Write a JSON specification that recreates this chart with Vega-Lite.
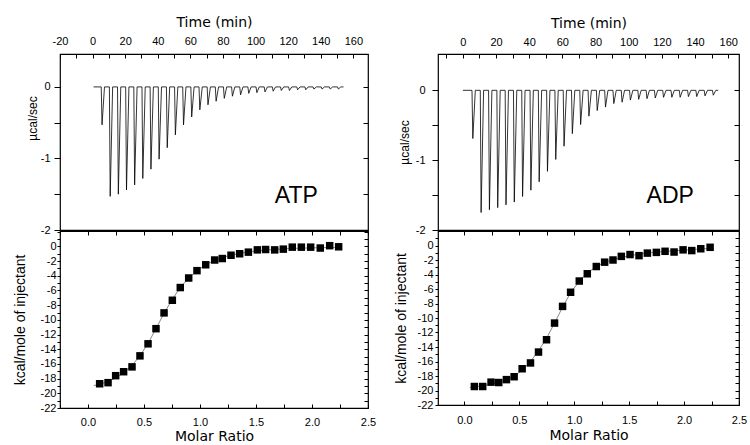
{
  "$schema": "https://vega.github.io/schema/vega-lite/v6.json",
  "background": "white",
  "padding": {"left": 12, "top": 14, "right": 1, "bottom": 0},
  "columns": 2,
  "spacing": {"row": 0, "column": 70},
  "bounds": "flush",
  "align": "all",
  "datasets": {
    "rawATP": [
      {"t":0.6,"p":0},
      {"t":5.3,"p":0},{"t":5.8,"p":-0.53},{"t":7.3,"p":0},
      {"t":10.3,"p":0},{"t":10.8,"p":-1.53},{"t":12.3,"p":0},
      {"t":15.3,"p":0},{"t":15.8,"p":-1.5},{"t":17.3,"p":0},
      {"t":20.3,"p":0},{"t":20.8,"p":-1.44},{"t":22.3,"p":0},
      {"t":25.3,"p":0},{"t":25.8,"p":-1.37},{"t":27.3,"p":0},
      {"t":30.3,"p":0},{"t":30.8,"p":-1.28},{"t":32.3,"p":0},
      {"t":35.3,"p":0},{"t":35.8,"p":-1.15},{"t":37.3,"p":0},
      {"t":40.3,"p":0},{"t":40.8,"p":-1.01},{"t":42.3,"p":0},
      {"t":45.3,"p":0},{"t":45.8,"p":-0.85},{"t":47.3,"p":0},
      {"t":50.3,"p":0},{"t":50.8,"p":-0.67},{"t":52.3,"p":0},
      {"t":55.3,"p":0},{"t":55.8,"p":-0.53},{"t":57.3,"p":0},
      {"t":60.3,"p":0},{"t":60.8,"p":-0.42},{"t":62.3,"p":0},
      {"t":65.3,"p":0},{"t":65.8,"p":-0.32},{"t":67.3,"p":0},
      {"t":70.3,"p":0},{"t":70.8,"p":-0.25},{"t":72.3,"p":0},
      {"t":75.3,"p":0},{"t":75.8,"p":-0.2},{"t":77.3,"p":0},
      {"t":80.3,"p":0},{"t":80.8,"p":-0.16},{"t":82.3,"p":0},
      {"t":85.3,"p":0},{"t":85.8,"p":-0.13},{"t":87.3,"p":0},
      {"t":90.3,"p":0},{"t":90.8,"p":-0.11},{"t":92.3,"p":0},
      {"t":95.3,"p":0},{"t":95.8,"p":-0.09},{"t":97.3,"p":0},
      {"t":100.3,"p":0},{"t":100.8,"p":-0.08},{"t":102.3,"p":0},
      {"t":105.3,"p":0},{"t":105.8,"p":-0.07},{"t":107.3,"p":0},
      {"t":110.3,"p":0},{"t":110.8,"p":-0.06},{"t":112.3,"p":0},
      {"t":115.3,"p":0},{"t":115.8,"p":-0.05},{"t":117.3,"p":0},
      {"t":120.3,"p":0},{"t":120.8,"p":-0.05},{"t":122.3,"p":0},
      {"t":125.3,"p":0},{"t":125.8,"p":-0.04},{"t":127.3,"p":0},
      {"t":130.3,"p":0},{"t":130.8,"p":-0.04},{"t":132.3,"p":0},
      {"t":135.3,"p":0},{"t":135.8,"p":-0.03},{"t":137.3,"p":0},
      {"t":140.3,"p":0},{"t":140.8,"p":-0.03},{"t":142.3,"p":0},
      {"t":145.3,"p":0},{"t":145.8,"p":-0.03},{"t":147.3,"p":0},
      {"t":150.3,"p":0},{"t":150.8,"p":-0.03},{"t":152.3,"p":0},
      {"t":154,"p":0}
    ],
    "rawADP": [
      {"t":0,"p":0},
      {"t":5.5,"p":0},{"t":6,"p":-0.69},{"t":7.5,"p":0},
      {"t":10.5,"p":0},{"t":11,"p":-1.75},{"t":12.5,"p":0},
      {"t":15.5,"p":0},{"t":16,"p":-1.71},{"t":17.5,"p":0},
      {"t":20.5,"p":0},{"t":21,"p":-1.68},{"t":22.5,"p":0},
      {"t":25.5,"p":0},{"t":26,"p":-1.64},{"t":27.5,"p":0},
      {"t":30.5,"p":0},{"t":31,"p":-1.6},{"t":32.5,"p":0},
      {"t":35.5,"p":0},{"t":36,"p":-1.52},{"t":37.5,"p":0},
      {"t":40.5,"p":0},{"t":41,"p":-1.43},{"t":42.5,"p":0},
      {"t":45.5,"p":0},{"t":46,"p":-1.31},{"t":47.5,"p":0},
      {"t":50.5,"p":0},{"t":51,"p":-1.16},{"t":52.5,"p":0},
      {"t":55.5,"p":0},{"t":56,"p":-0.99},{"t":57.5,"p":0},
      {"t":60.5,"p":0},{"t":61,"p":-0.8},{"t":62.5,"p":0},
      {"t":65.5,"p":0},{"t":66,"p":-0.62},{"t":67.5,"p":0},
      {"t":70.5,"p":0},{"t":71,"p":-0.49},{"t":72.5,"p":0},
      {"t":75.5,"p":0},{"t":76,"p":-0.37},{"t":77.5,"p":0},
      {"t":80.5,"p":0},{"t":81,"p":-0.29},{"t":82.5,"p":0},
      {"t":85.5,"p":0},{"t":86,"p":-0.24},{"t":87.5,"p":0},
      {"t":90.5,"p":0},{"t":91,"p":-0.19},{"t":92.5,"p":0},
      {"t":95.5,"p":0},{"t":96,"p":-0.17},{"t":97.5,"p":0},
      {"t":100.5,"p":0},{"t":101,"p":-0.14},{"t":102.5,"p":0},
      {"t":105.5,"p":0},{"t":106,"p":-0.13},{"t":107.5,"p":0},
      {"t":110.5,"p":0},{"t":111,"p":-0.12},{"t":112.5,"p":0},
      {"t":115.5,"p":0},{"t":116,"p":-0.11},{"t":117.5,"p":0},
      {"t":120.5,"p":0},{"t":121,"p":-0.1},{"t":122.5,"p":0},
      {"t":125.5,"p":0},{"t":126,"p":-0.1},{"t":127.5,"p":0},
      {"t":130.5,"p":0},{"t":131,"p":-0.1},{"t":132.5,"p":0},
      {"t":135.5,"p":0},{"t":136,"p":-0.09},{"t":137.5,"p":0},
      {"t":140.5,"p":0},{"t":141,"p":-0.09},{"t":142.5,"p":0},
      {"t":145.5,"p":0},{"t":146,"p":-0.08},{"t":147.5,"p":0},
      {"t":150.5,"p":0},{"t":151,"p":-0.07},{"t":152.5,"p":0},
      {"t":154,"p":0}
    ],
    "isoATP": [
      {"ratio":0.104,"dh":-18.7},{"ratio":0.179,"dh":-18.55},{"ratio":0.247,"dh":-17.6},
      {"ratio":0.318,"dh":-17.06},{"ratio":0.393,"dh":-16.4},{"ratio":0.464,"dh":-14.9},
      {"ratio":0.536,"dh":-13.26},{"ratio":0.607,"dh":-11.2},{"ratio":0.679,"dh":-9.05},
      {"ratio":0.753,"dh":-7.33},{"ratio":0.824,"dh":-5.6},{"ratio":0.899,"dh":-4.3},
      {"ratio":0.973,"dh":-3.3},{"ratio":1.051,"dh":-2.5},{"ratio":1.131,"dh":-1.85},
      {"ratio":1.199,"dh":-1.65},{"ratio":1.277,"dh":-1.2},{"ratio":1.354,"dh":-1.0},
      {"ratio":1.432,"dh":-0.78},{"ratio":1.512,"dh":-0.47},{"ratio":1.586,"dh":-0.42},
      {"ratio":1.667,"dh":-0.47},{"ratio":1.744,"dh":-0.37},{"ratio":1.824,"dh":-0.1},
      {"ratio":1.905,"dh":-0.1},{"ratio":1.988,"dh":-0.1},{"ratio":2.074,"dh":-0.22},
      {"ratio":2.158,"dh":0.1},{"ratio":2.238,"dh":-0.05}
    ],
    "fitATP": [
      {"ratio":0.05,"dh":-18.95},{"ratio":0.104,"dh":-18.75},{"ratio":0.179,"dh":-18.4},
      {"ratio":0.247,"dh":-17.9},{"ratio":0.318,"dh":-17.2},{"ratio":0.393,"dh":-16.2},
      {"ratio":0.464,"dh":-14.9},{"ratio":0.536,"dh":-13.2},{"ratio":0.607,"dh":-11.2},
      {"ratio":0.679,"dh":-9.1},{"ratio":0.753,"dh":-7.2},{"ratio":0.824,"dh":-5.6},
      {"ratio":0.899,"dh":-4.3},{"ratio":0.973,"dh":-3.3},{"ratio":1.051,"dh":-2.5},
      {"ratio":1.131,"dh":-1.9},{"ratio":1.199,"dh":-1.5},{"ratio":1.277,"dh":-1.2},
      {"ratio":1.354,"dh":-0.95},{"ratio":1.432,"dh":-0.75},{"ratio":1.512,"dh":-0.6},
      {"ratio":1.586,"dh":-0.5},{"ratio":1.667,"dh":-0.4},{"ratio":1.744,"dh":-0.33},
      {"ratio":1.824,"dh":-0.27},{"ratio":1.905,"dh":-0.23},{"ratio":1.988,"dh":-0.2},
      {"ratio":2.074,"dh":-0.17},{"ratio":2.158,"dh":-0.15},{"ratio":2.238,"dh":-0.13}
    ],
    "isoADP": [
      {"ratio":0.091,"dh":-19.45},{"ratio":0.167,"dh":-19.45},{"ratio":0.243,"dh":-18.85},
      {"ratio":0.313,"dh":-18.9},{"ratio":0.383,"dh":-18.5},{"ratio":0.453,"dh":-18.1},
      {"ratio":0.526,"dh":-17.0},{"ratio":0.602,"dh":-16.2},{"ratio":0.675,"dh":-14.7},
      {"ratio":0.748,"dh":-13.0},{"ratio":0.821,"dh":-10.7},{"ratio":0.894,"dh":-8.4},
      {"ratio":0.967,"dh":-6.45},{"ratio":1.046,"dh":-4.9},{"ratio":1.119,"dh":-3.9},
      {"ratio":1.201,"dh":-2.9},{"ratio":1.277,"dh":-2.3},{"ratio":1.353,"dh":-2.0},
      {"ratio":1.429,"dh":-1.5},{"ratio":1.508,"dh":-1.25},{"ratio":1.59,"dh":-1.4},
      {"ratio":1.666,"dh":-1.05},{"ratio":1.748,"dh":-0.95},{"ratio":1.827,"dh":-0.8},
      {"ratio":1.909,"dh":-0.9},{"ratio":1.991,"dh":-0.6},{"ratio":2.07,"dh":-0.7},
      {"ratio":2.152,"dh":-0.45},{"ratio":2.237,"dh":-0.25}
    ],
    "fitADP": [
      {"ratio":0.05,"dh":-19.6},{"ratio":0.091,"dh":-19.5},{"ratio":0.167,"dh":-19.35},
      {"ratio":0.243,"dh":-19.15},{"ratio":0.313,"dh":-18.9},{"ratio":0.383,"dh":-18.55},
      {"ratio":0.453,"dh":-18.0},{"ratio":0.526,"dh":-17.2},{"ratio":0.602,"dh":-16.0},
      {"ratio":0.675,"dh":-14.5},{"ratio":0.748,"dh":-12.8},{"ratio":0.821,"dh":-10.7},
      {"ratio":0.894,"dh":-8.5},{"ratio":0.967,"dh":-6.5},{"ratio":1.046,"dh":-4.95},
      {"ratio":1.119,"dh":-3.8},{"ratio":1.201,"dh":-2.9},{"ratio":1.277,"dh":-2.35},
      {"ratio":1.353,"dh":-1.95},{"ratio":1.429,"dh":-1.65},{"ratio":1.508,"dh":-1.4},
      {"ratio":1.59,"dh":-1.2},{"ratio":1.666,"dh":-1.05},{"ratio":1.748,"dh":-0.92},
      {"ratio":1.827,"dh":-0.82},{"ratio":1.909,"dh":-0.73},{"ratio":1.991,"dh":-0.65},
      {"ratio":2.07,"dh":-0.57},{"ratio":2.152,"dh":-0.48},{"ratio":2.237,"dh":-0.4}
    ]
  },
  "concat": [
    {
      "width": 308, "height": 176,
      "layer": [
        {
          "data": {"name": "rawATP"},
          "mark": {"type": "line", "color": "#000", "strokeWidth": 0.8},
          "encoding": {
            "x": {"field": "t", "type": "quantitative",
              "scale": {"domain": [-20, 169], "nice": false, "zero": false},
              "axis": {"orient": "top", "title": "Time (min)", "values": [-20,-10,0,10,20,30,40,50,60,70,80,90,100,110,120,130,140,150,160],
                "labelExpr": "datum.value % 20 == 0 ? '' + datum.value : ''", "tickSize": -4, "labelPadding": 12, "titlePadding": 6, "titleFont": "DejaVu Sans", "titleFontSize": 14}},
            "y": {"field": "p", "type": "quantitative",
              "scale": {"domain": [-2, 0.46], "nice": false, "zero": false},
              "axis": {"orient": "left", "title": "µcal/sec", "titleFontSize": 12, "values": [0,-0.5,-1,-1.5,-2],
                "labelExpr": "datum.value % 1 == 0 ? '' + datum.value : ''", "tickSize": 6, "labelPadding": 4, "titlePadding": 1, "titleY": 64}}
          }
        },
        {
          "data": {"values": [{}]},
          "mark": {"type": "text", "font": "Liberation Sans", "fontSize": 23, "align": "center", "baseline": "middle", "color": "#000"},
          "encoding": {
            "x": {"datum": 125, "type": "quantitative", "scale": {"domain": [-20, 169], "nice": false, "zero": false}, "axis": null},
            "y": {"datum": -1.52, "type": "quantitative", "scale": {"domain": [-2, 0.46], "nice": false, "zero": false},
              "axis": {"orient": "right", "title": null, "labels": false, "values": [0,-0.5,-1,-1.5], "tickSize": -5}},
            "text": {"value": "ATP"}
          }
        }
      ],
      "resolve": {"axis": {"x": "independent", "y": "independent"}}
    },
    {
      "width": 301, "height": 176,
      "layer": [
        {
          "data": {"name": "rawADP"},
          "mark": {"type": "line", "color": "#000", "strokeWidth": 0.8},
          "encoding": {
            "x": {"field": "t", "type": "quantitative",
              "scale": {"domain": [-15, 166.5], "nice": false, "zero": false},
              "axis": {"orient": "top", "title": "Time (min)", "values": [-10,0,10,20,30,40,50,60,70,80,90,100,110,120,130,140,150,160],
                "labelExpr": "datum.value % 20 == 0 ? '' + datum.value : ''", "tickSize": -4, "labelPadding": 11, "titlePadding": 6, "titleFont": "DejaVu Sans", "titleFontSize": 14}},
            "y": {"field": "p", "type": "quantitative",
              "scale": {"domain": [-2, 0.52], "nice": false, "zero": false},
              "axis": {"orient": "left", "title": "µcal/sec", "titleFontSize": 12, "values": [0,-0.5,-1,-1.5,-2],
                "labelExpr": "datum.value % 1 == 0 ? '' + datum.value : ''", "tickSize": 6, "labelPadding": 7, "titlePadding": 4}}
          }
        },
        {
          "data": {"values": [{}]},
          "mark": {"type": "text", "font": "Liberation Sans", "fontSize": 23, "align": "center", "baseline": "middle", "color": "#000"},
          "encoding": {
            "x": {"datum": 125, "type": "quantitative", "scale": {"domain": [-15, 166.5], "nice": false, "zero": false}, "axis": null},
            "y": {"datum": -1.51, "type": "quantitative", "scale": {"domain": [-2, 0.52], "nice": false, "zero": false},
              "axis": {"orient": "right", "title": null, "labels": false, "values": [0,-0.5,-1,-1.5], "tickSize": -5}},
            "text": {"value": "ADP"}
          }
        }
      ],
      "resolve": {"axis": {"x": "independent", "y": "independent"}}
    },
    {
      "width": 308, "height": 177,
      "layer": [
        {
          "data": {"name": "fitATP"},
          "mark": {"type": "line", "color": "#555", "strokeWidth": 0.7},
          "encoding": {
            "x": {"field": "ratio", "type": "quantitative",
              "scale": {"domain": [-0.25, 2.5], "nice": false, "zero": false},
              "axis": {"orient": "top", "title": null, "labels": false, "values": [-0.25,0,0.25,0.5,0.75,1,1.25,1.5,1.75,2,2.25,2.5], "tickSize": -4}},
            "y": {"field": "dh", "type": "quantitative",
              "scale": {"domain": [-22, 2.1], "nice": false, "zero": false},
              "axis": {"orient": "right", "title": null, "labels": false, "values": [-22,-21,-20,-19,-18,-17,-16,-15,-14,-13,-12,-11,-10,-9,-8,-7,-6,-5,-4,-3,-2,-1,0,1,2], "tickSize": -4}}
          }
        },
        {
          "data": {"name": "isoATP"},
          "mark": {"type": "square", "color": "#000", "size": 56, "opacity": 1},
          "encoding": {
            "x": {"field": "ratio", "type": "quantitative",
              "scale": {"domain": [-0.25, 2.5], "nice": false, "zero": false},
              "axis": {"orient": "bottom", "title": "Molar Ratio", "values": [-0.25,0,0.25,0.5,0.75,1,1.25,1.5,1.75,2,2.25,2.5],
                "labelExpr": "datum.value >= 0 && (datum.value * 2) % 1 == 0 ? format(datum.value, '.1f') : ''", "tickSize": -4, "labelPadding": 12, "titlePadding": 2, "titleFont": "DejaVu Sans", "titleFontSize": 14}},
            "y": {"field": "dh", "type": "quantitative",
              "scale": {"domain": [-22, 2.1], "nice": false, "zero": false},
              "axis": {"orient": "left", "title": "kcal/mole of injectant", "titleFontSize": 14, "values": [-22,-21,-20,-19,-18,-17,-16,-15,-14,-13,-12,-11,-10,-9,-8,-7,-6,-5,-4,-3,-2,-1,0,1,2],
                "labelExpr": "datum.value % 2 == 0 && datum.value <= 0 ? '' + datum.value : ''", "tickSize": 3, "labelPadding": 1, "titlePadding": 13}}
          }
        }
      ],
      "resolve": {"axis": {"x": "independent", "y": "independent"}}
    },
    {
      "width": 301, "height": 174,
      "layer": [
        {
          "data": {"name": "fitADP"},
          "mark": {"type": "line", "color": "#555", "strokeWidth": 0.7},
          "encoding": {
            "x": {"field": "ratio", "type": "quantitative",
              "scale": {"domain": [-0.24, 2.5], "nice": false, "zero": false},
              "axis": {"orient": "top", "title": null, "labels": false, "values": [0,0.25,0.5,0.75,1,1.25,1.5,1.75,2,2.25,2.5], "tickSize": -4}},
            "y": {"field": "dh", "type": "quantitative",
              "scale": {"domain": [-22, 2], "nice": false, "zero": false},
              "axis": {"orient": "right", "title": null, "labels": false, "values": [-22,-21,-20,-19,-18,-17,-16,-15,-14,-13,-12,-11,-10,-9,-8,-7,-6,-5,-4,-3,-2,-1,0,1], "tickSize": -4}}
          }
        },
        {
          "data": {"name": "isoADP"},
          "mark": {"type": "square", "color": "#000", "size": 56, "opacity": 1},
          "encoding": {
            "x": {"field": "ratio", "type": "quantitative",
              "scale": {"domain": [-0.24, 2.5], "nice": false, "zero": false},
              "axis": {"orient": "bottom", "title": "Molar Ratio", "values": [0,0.25,0.5,0.75,1,1.25,1.5,1.75,2,2.25,2.5],
                "labelExpr": "datum.value >= 0 && (datum.value * 2) % 1 == 0 ? format(datum.value, '.1f') : ''", "tickSize": -4, "labelPadding": 13, "titlePadding": 3, "titleFont": "DejaVu Sans", "titleFontSize": 14}},
            "y": {"field": "dh", "type": "quantitative",
              "scale": {"domain": [-22, 2], "nice": false, "zero": false},
              "axis": {"orient": "left", "title": "kcal/mole of injectant", "titleFontSize": 14, "values": [-22,-21,-20,-19,-18,-17,-16,-15,-14,-13,-12,-11,-10,-9,-8,-7,-6,-5,-4,-3,-2,-1,0,1],
                "labelExpr": "datum.value % 2 == 0 && datum.value <= 0 ? '' + datum.value : ''", "tickSize": 3, "labelPadding": 2, "titlePadding": 9}}
          }
        }
      ],
      "resolve": {"axis": {"x": "independent", "y": "independent"}}
    }
  ],
  "config": {
    "view": {"stroke": "#000", "strokeWidth": 1.2},
    "axis": {
      "domain": false, "grid": false, "tickColor": "#000", "tickWidth": 1,
      "labelColor": "#000", "titleColor": "#000",
      "labelFont": "Liberation Sans", "labelFontSize": 11,
      "titleFont": "Liberation Sans", "titleFontSize": 13, "titleFontWeight": "normal",
      "labelFlush": false, "labelOverlap": false
    }
  }
}
